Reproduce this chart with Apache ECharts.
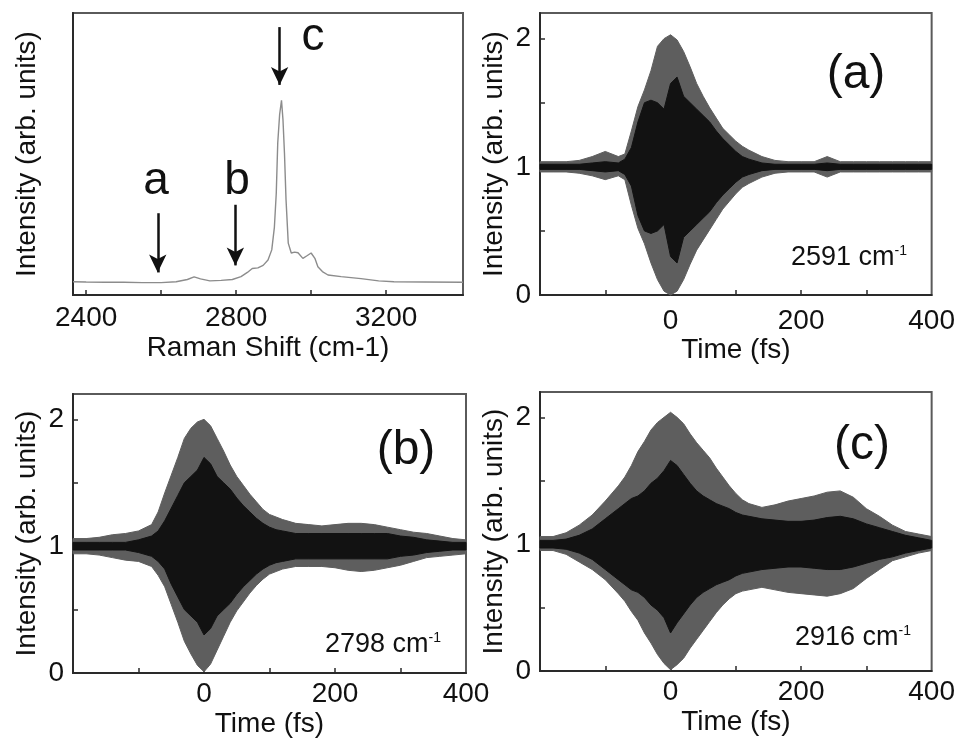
<!DOCTYPE html>
<html>
<head>
<meta charset="utf-8">
<script src="https://cdn.jsdelivr.net/npm/echarts@6/dist/echarts.min.js"></script>
<style>
html, body { margin: 0; padding: 0; background: #fff; }
#main { width: 958px; height: 743px; }
</style>
</head>
<body>
<div id="main"></div>
<script>
// Raman spectrum (top left)
const ramanShift = [2365, 2400, 2450, 2500, 2550, 2600, 2640, 2670, 2688, 2705, 2730, 2760, 2790, 2813, 2830, 2843, 2858, 2872, 2885, 2895, 2902, 2907, 2911, 2916, 2921, 2925, 2929, 2933, 2939, 2947, 2956, 2965, 2978, 2990, 3000, 3010, 3018, 3030, 3045, 3080, 3133, 3180, 3221, 3300, 3405]
const ramanIntensity = [0.047, 0.046, 0.045, 0.045, 0.044, 0.044, 0.047, 0.055, 0.064, 0.057, 0.05, 0.052, 0.055, 0.065, 0.08, 0.094, 0.096, 0.105, 0.124, 0.16, 0.24, 0.36, 0.54, 0.64, 0.69, 0.62, 0.5, 0.34, 0.184, 0.149, 0.152, 0.15, 0.13, 0.14, 0.149, 0.13, 0.1, 0.083, 0.071, 0.065, 0.058, 0.05, 0.047, 0.046, 0.045]
const ramanTicks = [2400, 2600, 2800, 3000, 3200]
const ramanTickLabels = [2400, 2800, 3200]

// marked modes: a, b, c
const peakLetters = ['a', 'b', 'c']
const peakShifts = [2591, 2798, 2916]
const arrowFrom = [0.29, 0.32, 0.95]
const arrowTo = [0.08, 0.105, 0.745]

// time traces: outer envelope and dense core, per mode
const timeFs = [-200, -180, -160, -140, -120, -100, -80, -70, -60, -50, -40, -30, -20, -10, 0, 10, 20, 30, 40, 50, 60, 70, 80, 90, 100, 110, 120, 140, 160, 180, 200, 220, 240, 260, 280, 300, 320, 340, 360, 380, 400]
const timeTicks = [-100, 0, 100, 200, 300]
const timeTickLabels = [0, 200, 400]
const intensityTicks = [0, 0.5, 1, 1.5, 2]
const intensityTickLabels = [0, 1, 2]

const upperA = [1.04, 1.04, 1.04, 1.05, 1.08, 1.12, 1.08, 1.1, 1.28, 1.47, 1.6, 1.75, 1.94, 2.0, 2.03, 1.99, 1.9, 1.78, 1.65, 1.55, 1.46, 1.38, 1.3, 1.25, 1.2, 1.16, 1.13, 1.08, 1.05, 1.04, 1.04, 1.04, 1.08, 1.04, 1.04, 1.04, 1.04, 1.04, 1.04, 1.04, 1.04]
const lowerA = [0.96, 0.96, 0.96, 0.95, 0.93, 0.9, 0.93, 0.9, 0.7, 0.52, 0.4, 0.25, 0.12, 0.03, 0.0, 0.03, 0.12, 0.24, 0.35, 0.43, 0.51, 0.59, 0.67, 0.73, 0.79, 0.84, 0.87, 0.92, 0.95, 0.96, 0.96, 0.96, 0.92, 0.96, 0.96, 0.96, 0.96, 0.96, 0.96, 0.96, 0.96]
const coreUpperA = [1.02, 1.02, 1.02, 1.02, 1.03, 1.04, 1.03, 1.06, 1.15, 1.35, 1.5, 1.52, 1.5, 1.45, 1.65, 1.7, 1.55, 1.5, 1.45, 1.4, 1.35, 1.28, 1.22, 1.17, 1.12, 1.08, 1.06, 1.03, 1.02, 1.02, 1.02, 1.02, 1.03, 1.02, 1.02, 1.02, 1.02, 1.02, 1.02, 1.02, 1.02]
const coreLowerA = [0.98, 0.98, 0.98, 0.98, 0.97, 0.96, 0.97, 0.94, 0.85, 0.62, 0.5, 0.48, 0.5, 0.55, 0.3, 0.25, 0.45, 0.5, 0.55, 0.6, 0.65, 0.72, 0.78, 0.83, 0.88, 0.92, 0.94, 0.97, 0.98, 0.98, 0.98, 0.98, 0.97, 0.98, 0.98, 0.98, 0.98, 0.98, 0.98, 0.98, 0.98]

const upperB = [1.06, 1.06, 1.07, 1.09, 1.1, 1.12, 1.17, 1.27, 1.42, 1.56, 1.7, 1.85, 1.93, 1.98, 2.0, 1.95, 1.85, 1.75, 1.64, 1.55, 1.48, 1.41, 1.35, 1.29, 1.25, 1.23, 1.21, 1.18, 1.17, 1.16, 1.17, 1.18, 1.18, 1.17, 1.15, 1.13, 1.11, 1.1, 1.08, 1.06, 1.05]
const lowerB = [0.94, 0.94, 0.93, 0.91, 0.89, 0.88, 0.84, 0.77, 0.68, 0.54, 0.4, 0.25, 0.15, 0.06, 0.01, 0.07, 0.18, 0.29, 0.4, 0.49, 0.56, 0.63, 0.69, 0.74, 0.78, 0.8, 0.82, 0.84, 0.84, 0.84, 0.83, 0.81, 0.8, 0.81, 0.83, 0.85, 0.88, 0.91, 0.92, 0.93, 0.94]
const coreUpperB = [1.03, 1.03, 1.03, 1.03, 1.03, 1.05, 1.08, 1.12, 1.2, 1.3, 1.4, 1.5, 1.55, 1.6, 1.7, 1.65, 1.55, 1.5, 1.45, 1.38, 1.32, 1.27, 1.22, 1.18, 1.15, 1.13, 1.12, 1.1, 1.1, 1.1, 1.1, 1.1, 1.1, 1.1, 1.1, 1.08, 1.07, 1.05, 1.04, 1.03, 1.03]
const coreLowerB = [0.97, 0.97, 0.97, 0.97, 0.97, 0.95, 0.92, 0.88, 0.82, 0.7, 0.6, 0.5, 0.45, 0.4, 0.3, 0.35, 0.45, 0.5, 0.55, 0.62, 0.68, 0.73, 0.78, 0.82, 0.85, 0.87, 0.88, 0.9, 0.9, 0.9, 0.9, 0.9, 0.9, 0.9, 0.9, 0.92, 0.93, 0.95, 0.96, 0.97, 0.97]

const upperC = [1.06, 1.06, 1.09, 1.15, 1.23, 1.34, 1.46, 1.53, 1.62, 1.73, 1.81, 1.9, 1.96, 2.0, 2.04, 2.0, 1.95, 1.87, 1.8, 1.74, 1.68, 1.6, 1.53, 1.46, 1.4, 1.35, 1.32, 1.29, 1.31, 1.34, 1.36, 1.38, 1.41, 1.42, 1.37, 1.28, 1.22, 1.15, 1.1, 1.08, 1.06]
const lowerC = [0.95, 0.95, 0.92, 0.86, 0.8, 0.72, 0.61, 0.55, 0.47, 0.4, 0.3, 0.22, 0.13, 0.06, 0.01, 0.05, 0.1, 0.18, 0.25, 0.32, 0.39, 0.46, 0.52, 0.57, 0.61, 0.63, 0.64, 0.66, 0.64, 0.62, 0.61, 0.6, 0.59, 0.61, 0.65, 0.73, 0.8, 0.87, 0.9, 0.93, 0.95]
const coreUpperC = [1.03, 1.03, 1.04, 1.07, 1.12, 1.2, 1.28, 1.32, 1.36, 1.38, 1.42, 1.48, 1.52, 1.58, 1.66, 1.62, 1.55, 1.48, 1.42, 1.38, 1.35, 1.32, 1.3, 1.28, 1.25, 1.23, 1.22, 1.2, 1.19, 1.18, 1.18, 1.19, 1.21, 1.22, 1.2, 1.16, 1.13, 1.1, 1.07, 1.05, 1.03]
const coreLowerC = [0.97, 0.97, 0.96, 0.93, 0.88, 0.8, 0.72, 0.68, 0.64, 0.62, 0.58, 0.52, 0.48, 0.42, 0.3, 0.38, 0.45, 0.52, 0.58, 0.62, 0.65, 0.68, 0.7, 0.72, 0.75, 0.77, 0.78, 0.8, 0.81, 0.82, 0.82, 0.81, 0.8, 0.8, 0.82, 0.85, 0.88, 0.9, 0.93, 0.95, 0.97]

const panelLabels = ['(a)', '(b)', '(c)']
const modeLabels = ['2591', '2798', '2916']

const FONT = '"Liberation Sans", Arial, Helvetica, sans-serif'
const INK = '#111'

const grids = [
  { left: 73, top: 13, width: 390, height: 282 },
  { left: 540, top: 13, width: 392, height: 282 },
  { left: 73, top: 394, width: 393, height: 279 },
  { left: 540, top: 392, width: 393, height: 279 }
]

function pairs (xs, ys) {
  return xs.map((x, i) => [x, ys[i]])
}

const axisText = { fontSize: 28, color: INK, fontFamily: FONT }
const axisLine = { show: true, onZero: false, lineStyle: { color: '#2a2a2a', width: 2 } }
const tickStyle = { color: '#2a2a2a', width: 1.5 }
const plain = v => String(v)

const xAxes = [{
  type: 'value', gridIndex: 0, min: 2365, max: 3405,
  axisLine: axisLine,
  axisTick: { show: true, inside: true, length: 5, customValues: ramanTicks, lineStyle: tickStyle },
  axisLabel: Object.assign({ customValues: ramanTickLabels, margin: 9, formatter: plain }, axisText),
  splitLine: { show: false },
  name: 'Raman Shift (cm-1)', nameLocation: 'middle', nameGap: 39, nameTextStyle: axisText
}]
const yAxes = [{
  type: 'value', gridIndex: 0, min: 0, max: 1,
  axisLine: axisLine, axisTick: { show: false }, axisLabel: { show: false },
  splitLine: { show: false },
  name: 'Intensity (arb. units)', nameLocation: 'middle', nameRotate: 90, nameGap: 32, nameTextStyle: axisText
}]
for (let g = 1; g < 4; g++) {
  xAxes.push({
    type: 'value', gridIndex: g, min: -200, max: 400,
    axisLine: axisLine,
    axisTick: { show: true, inside: true, length: 5, customValues: timeTicks, lineStyle: tickStyle },
    axisLabel: Object.assign({ customValues: timeTickLabels, margin: g === 1 ? 12 : 7, formatter: plain }, axisText),
    splitLine: { show: false },
    name: 'Time (fs)', nameLocation: 'middle', nameGap: g === 1 ? 39 : 37, nameTextStyle: axisText
  })
  yAxes.push({
    type: 'value', gridIndex: g, min: 0, max: 2.2,
    axisLine: axisLine,
    axisTick: { show: true, inside: true, length: 5, customValues: intensityTicks, lineStyle: tickStyle },
    axisLabel: Object.assign({ customValues: intensityTickLabels, margin: 9, formatter: plain }, axisText),
    splitLine: { show: false },
    name: 'Intensity (arb. units)', nameLocation: 'middle', nameRotate: 90, nameGap: 32, nameTextStyle: axisText
  })
}

const series = [{
  type: 'line', xAxisIndex: 0, yAxisIndex: 0,
  data: pairs(ramanShift, ramanIntensity),
  symbol: 'none', lineStyle: { color: '#8c8c8c', width: 1.4 },
  markLine: {
    silent: true, symbol: ['none', 'arrow'], symbolSize: [13, 18],
    lineStyle: { color: INK, width: 2.5, type: 'solid' },
    label: { show: false },
    data: peakShifts.map((s, i) => [{ coord: [s, arrowFrom[i]] }, { coord: [s, arrowTo[i]] }])
  }
}]

// filled band between a lower and an upper trace, drawn as one polygon
function bandSeries (g, upper, lower, color, z) {
  const rows = timeFs.map((t, i) => [t, lower[i], upper[i]])
  return {
    type: 'custom', xAxisIndex: g, yAxisIndex: g, z: z, silent: true,
    data: rows,
    encode: { x: 0, y: [1, 2] },
    renderItem: function (params, api) {
      if (params.dataIndex !== 0) return
      const top = rows.map(r => api.coord([r[0], r[2]]))
      const bottom = rows.map(r => api.coord([r[0], r[1]])).reverse()
      return {
        type: 'polygon',
        shape: { points: top.concat(bottom) },
        style: { fill: color, stroke: color, lineWidth: 1 }
      }
    }
  }
}

const traces = [
  [upperA, lowerA, coreUpperA, coreLowerA],
  [upperB, lowerB, coreUpperB, coreLowerB],
  [upperC, lowerC, coreUpperC, coreLowerC]
]
traces.forEach((tr, k) => {
  series.push(bandSeries(k + 1, tr[0], tr[1], '#5e5e5e', 2))
  series.push(bandSeries(k + 1, tr[2], tr[3], '#121212', 3))
})

// text annotations
const graphic = []
const letterPos = [[156, 181], [237, 181], [313, 37]]
peakLetters.forEach((t, i) => {
  graphic.push({
    type: 'text', x: letterPos[i][0], y: letterPos[i][1], silent: true, z: 10,
    style: { text: t, font: '46px ' + FONT, fill: INK, align: 'center', verticalAlign: 'middle', textAlign: 'center', textVerticalAlign: 'middle' }
  })
})
const panelPos = [[856, 75], [406, 451], [862, 446]]
const modePos = [[791, 258], [325, 645], [795, 638]]
panelLabels.forEach((t, i) => {
  graphic.push({
    type: 'text', x: panelPos[i][0], y: panelPos[i][1], silent: true, z: 10,
    style: { text: t, font: '48px ' + FONT, fill: INK, align: 'center', verticalAlign: 'middle', textAlign: 'center', textVerticalAlign: 'middle' }
  })
  graphic.push({
    type: 'text', x: modePos[i][0], y: modePos[i][1], silent: true, z: 10,
    style: {
      text: '{m|' + modeLabels[i] + ' cm}{s|-1}',
      align: 'left', verticalAlign: 'middle', textAlign: 'left', textVerticalAlign: 'middle',
      rich: {
        m: { fontSize: 27, fontFamily: FONT, fill: INK, color: INK, lineHeight: 28 },
        s: { fontSize: 14, fontFamily: FONT, fill: INK, color: INK, lineHeight: 14, verticalAlign: 'top' }
      }
    }
  })
})

const chart = echarts.init(document.getElementById('main'))
chart.setOption({
  animation: false,
  backgroundColor: '#fff',
  grid: grids.map(g => Object.assign({ show: true, borderColor: '#5a5a5a', borderWidth: 2, backgroundColor: 'transparent' }, g)),
  xAxis: xAxes,
  yAxis: yAxes,
  series: series,
  graphic: graphic
})
</script>
</body>
</html>
